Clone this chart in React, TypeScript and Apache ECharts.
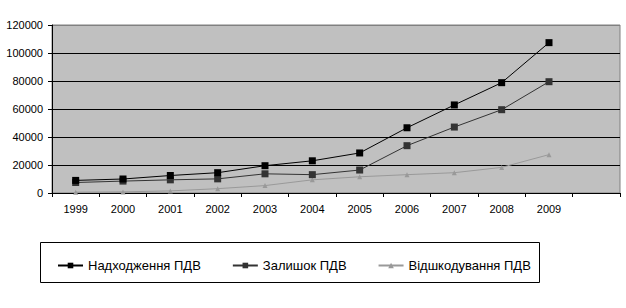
import React, { useEffect, useRef } from "react";
import * as echarts from "echarts";

const years = ["1999", "2000", "2001", "2002", "2003", "2004", "2005", "2006", "2007", "2008", "2009", ""];
const nadhodzhennya = [9000, 10000, 12500, 14500, 19500, 23000, 28600, 46600, 62900, 78800, 107400];
const zalyshok = [7500, 8500, 9400, 10100, 13700, 13100, 16400, 33800, 47100, 59500, 79500];
const vidshkoduvannya = [600, 800, 1500, 3100, 5300, 9400, 11600, 13100, 14500, 18300, 27400];
const seriesNames = ["Надходження ПДВ", "Залишок ПДВ", "Відшкодування ПДВ"];

export default function App() {
  const ref = useRef<HTMLDivElement>(null);
  useEffect(() => {
    if (!ref.current) return;
    const chart = echarts.init(ref.current, null, { renderer: "svg" });
    const font = "Liberation Sans, Arial, sans-serif";
    chart.setOption({
      animation: false,
      backgroundColor: "#ffffff",
      textStyle: { fontFamily: font },
      grid: {
        left: 52,
        right: 6,
        top: 25,
        bottom: 115,
        show: true,
        backgroundColor: "#c0c0c0",
        borderColor: "#808080",
        borderWidth: 1,
      },
      graphic: [
        {
          type: "rect",
          shape: { x: 40.5, y: 242.5, width: 499, height: 40 },
          style: { fill: "#ffffff", stroke: "#000000", lineWidth: 1 },
          z: 0,
        },
      ],
      legend: {
        left: 52,
        top: 254,
        itemWidth: 25,
        itemHeight: 7,
        itemGap: 31,
        textStyle: { fontFamily: font, fontSize: 13, color: "#000" },
        data: seriesNames,
        z: 10,
      },
      xAxis: {
        type: "category",
        data: years,
        boundaryGap: true,
        axisLine: { show: true, lineStyle: { color: "#000", width: 1 } },
        axisTick: { show: true, inside: false, length: 4, lineStyle: { color: "#000" }, alignWithLabel: false },
        axisLabel: { color: "#000", fontSize: 11, fontFamily: font, margin: 10, interval: 0 },
        splitLine: { show: false },
      },
      yAxis: {
        type: "value",
        min: 0,
        max: 120000,
        interval: 20000,
        axisLine: { show: true, lineStyle: { color: "#000", width: 1 } },
        axisTick: { show: true, inside: false, length: 4, lineStyle: { color: "#000" } },
        axisLabel: {
          color: "#000",
          fontSize: 11,
          fontFamily: font,
          margin: 9,
          formatter: (v: number) => String(v),
        },
        splitLine: {
          show: true,
          lineStyle: {
            color: ["#000", "#000", "#000", "#000", "#000", "#000", "#808080"],
            width: 1,
          },
        },
      },
      series: [
        {
          name: seriesNames[0],
          type: "line",
          data: nadhodzhennya,
          symbol: "rect",
          symbolSize: 7,
          lineStyle: { color: "#000000", width: 1 },
          itemStyle: { color: "#000000" },
          z: 5,
        },
        {
          name: seriesNames[1],
          type: "line",
          data: zalyshok,
          symbol: "rect",
          symbolSize: 7,
          lineStyle: { color: "#333333", width: 1 },
          itemStyle: { color: "#333333" },
          z: 4,
        },
        {
          name: seriesNames[2],
          type: "line",
          data: vidshkoduvannya,
          symbol: "triangle",
          symbolSize: 5,
          lineStyle: { color: "#999999", width: 1 },
          itemStyle: { color: "#999999" },
          z: 3,
        },
      ],
    });
    return () => chart.dispose();
  }, []);
  return <div ref={ref} style={{ width: 626, height: 308, position: "absolute", left: 0, top: 0 }} />;
}
